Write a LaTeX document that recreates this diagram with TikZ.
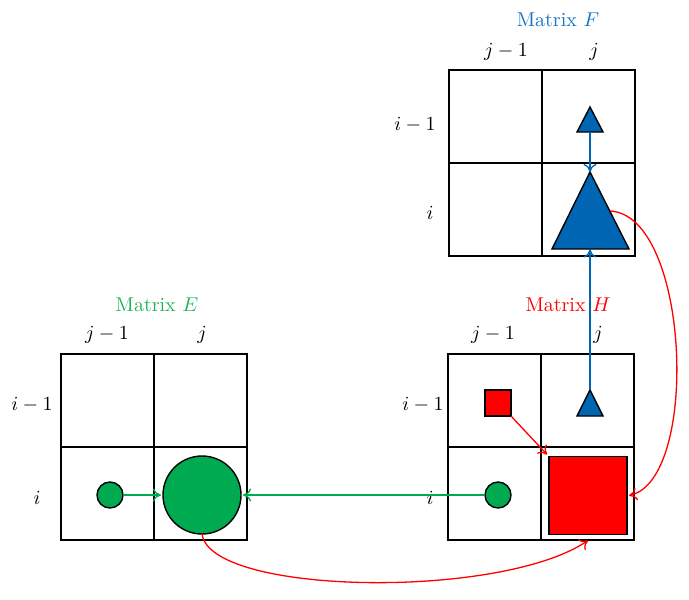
\documentclass[tikz,border=0pt]{standalone}
\usetikzlibrary{arrows.meta}
\definecolor{mblue}{RGB}{0,102,179}
\definecolor{tblue}{RGB}{20,115,195}
\definecolor{mgreen}{RGB}{0,170,80}
\definecolor{tgreen}{RGB}{30,180,90}
\definecolor{mred}{RGB}{255,0,0}
\begin{document}
\begin{tikzpicture}[x=0.5pt,y=-0.5pt,
  gridline/.style={line width=0.85pt,black},
  shp/.style={draw=black,line width=0.7pt,inner sep=0pt,outer sep=0pt},
  gcirc/.style={shp,circle,fill=mgreen},
  rsq/.style={shp,rectangle,fill=mred},
  conn/.style={line width=0.65pt,-{To[length=4pt,width=6.5pt]}},
  lbl/.style={inner sep=0pt}
]
\useasboundingbox (0,0) rectangle (689,599);
% grids
\draw[gridline] (449,70) rectangle (635,256) (542,70) -- (542,256) (449,163) -- (635,163);
\draw[gridline] (448,354) rectangle (634,540) (541,354) -- (541,540) (448,447) -- (634,447);
\draw[gridline] (61,354) rectangle (247,540) (154,354) -- (154,540) (61,447) -- (247,447);
% titles
\node[lbl,text=tblue] (tF) at (558,20) {Matrix $F$};
\node[lbl,text=mred] (tH) at (568,305) {Matrix $H$};
\node[lbl,text=tgreen] (tE) at (157,305) {Matrix $E$};
% column labels
\node[lbl] (cF1) at (506,52) {$j-1$};
\node[lbl] (cF2) at (594,52) {$j$};
\node[lbl] (cH1) at (493,335) {$j-1$};
\node[lbl] (cH2) at (598,335) {$j$};
\node[lbl] (cE1) at (107,335) {$j-1$};
\node[lbl] (cE2) at (202,335) {$j$};
% row labels
\node[lbl] (rF1) at (415,125) {$i-1$};
\node[lbl] (rF2) at (430,213) {$i$};
\node[lbl] (rH1) at (423,405) {$i-1$};
\node[lbl] (rH2) at (430,498) {$i$};
\node[lbl] (rE1) at (32,405) {$i-1$};
\node[lbl] (rE2) at (37,498) {$i$};
% triangles
\filldraw[fill=mblue,draw=black,line width=0.7pt,line join=miter] (590,107) -- (603,132) -- (577,132) -- cycle;
\coordinate (fsb) at (590,132);
\filldraw[fill=mblue,draw=black,line width=0.7pt,line join=miter] (590,172) -- (629,249) -- (552,249) -- cycle;
\coordinate (fba) at (590,172);
\coordinate (fbb) at (590,249.5);
\coordinate (fbr) at (610,211);
\filldraw[fill=mblue,draw=black,line width=0.7pt,line join=miter] (590,390) -- (603,416) -- (577,416) -- cycle;
\coordinate (hta) at (590,390);
% squares and circles
\node[rsq,minimum size=13pt] (hsq) at (498,403) {};
\node[rsq,minimum size=39pt] (hbig) at (588,495.5) {};
\node[gcirc,minimum size=13pt] (hc) at (498,495) {};
\node[gcirc,minimum size=13pt] (ec) at (110,495) {};
\node[gcirc,minimum size=39pt] (ebig) at (202,495) {};
% connectors
\draw[conn,mblue] (fsb) -- (fba);
\draw[conn,mblue] (hta) -- (fbb);
\draw[conn,mred] (hsq.south east) -- ([shift={(-2,-2)}]hbig.north west);
\draw[conn,mgreen] (ec.east) -- ([xshift=-1pt]ebig.west);
\draw[conn,mgreen] (hc.west) -- ([xshift=1pt]ebig.east);
\draw[conn,mred] (fbr) .. controls (690,215) and (700,480) .. ([xshift=1pt]hbig.east);
\draw[conn,mred] (ebig.south) .. controls (210,595) and (500,600) .. ([yshift=-3pt]hbig.south);
\end{tikzpicture}
\end{document}
